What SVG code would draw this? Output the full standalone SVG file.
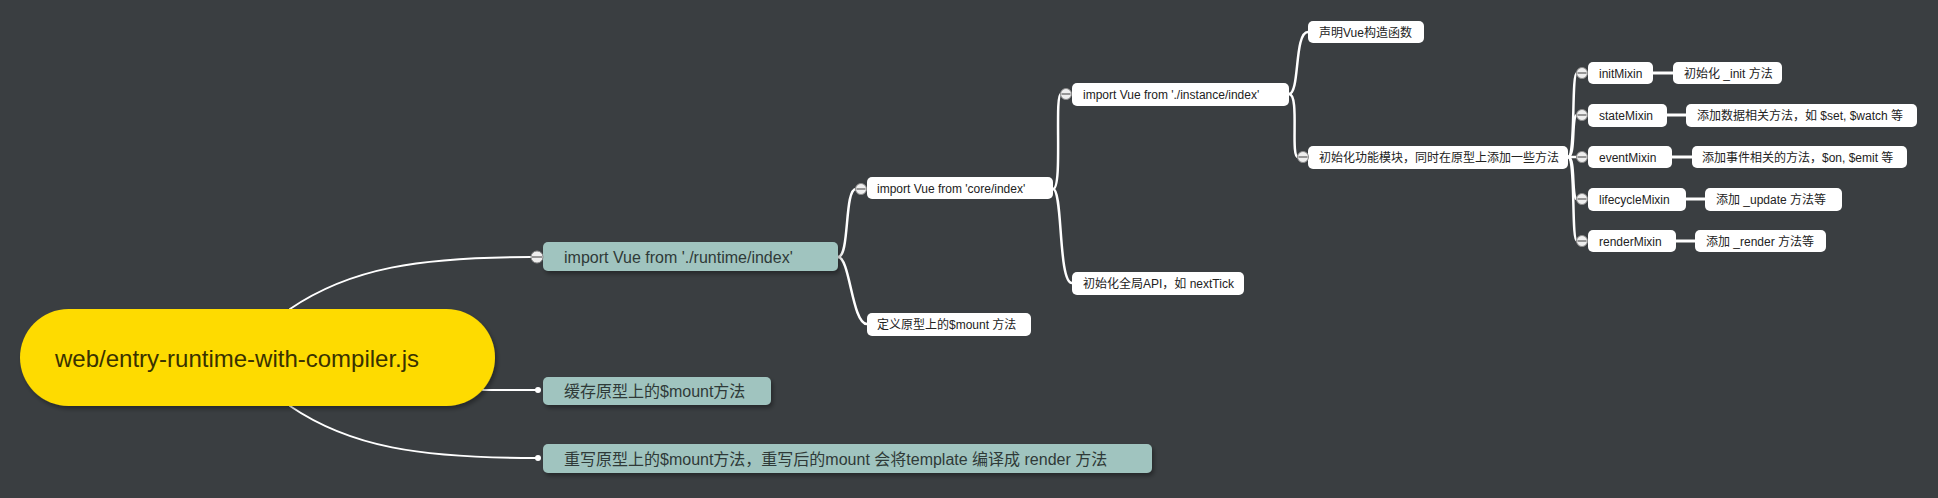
<svg xmlns="http://www.w3.org/2000/svg" width="1938" height="498" viewBox="0 0 1938 498">
<defs>
<filter id="sh" x="-10%" y="-30%" width="120%" height="170%">
<feDropShadow dx="2" dy="3" stdDeviation="2" flood-color="#000" flood-opacity="0.35"/>
</filter>
</defs>
<style>
text{font-family:"Liberation Sans",Arial,"Noto Sans CJK SC",sans-serif;fill:#333;}
.root{fill:#fedb00;filter:url(#sh);}
.roott{font-size:24px;fill:#3a3200;}
.l1{fill:#a0c4bf;filter:url(#sh);}
.l1t{font-size:16px;fill:#2f3a38;}
.wn{fill:#ffffff;}
.wt{font-size:12px;fill:#222;}
.c{fill:none;stroke:#ffffff;stroke-width:2.5;stroke-linecap:round;}
.thin{stroke-width:2;}
.col{fill:#eeeeee;stroke:#8a8a8a;stroke-width:1;}
.minus{stroke:#666;stroke-width:1.3;}
.dot{fill:#ffffff;}
</style>
<rect width="1938" height="498" fill="#3a3e41"/>
<g id="connectors">
<path class="c thin" d="M290,309 C350,268 420,257 531,257"/>
<path class="c thin" d="M483,390 L536,390"/>
<path class="c thin" d="M290,406 C350,447 420,458 536,458"/>
<path class="c" d="M838,257 C850,257 844,189 856,189"/>
<path class="c" d="M838,257 C850,257 852,324 867,324"/>
<path class="c" d="M1053,189 C1063,189 1054,94 1061,94"/>
<path class="c" d="M1053,189 C1063,189 1058,283 1072,283"/>
<path class="c" d="M1289,94 C1300,94 1294,32 1308,32"/>
<path class="c" d="M1289,94 C1300,94 1290,157 1298,157"/>
<path class="c" d="M1568,157 C1576,157 1571,73 1577,73"/>
<path class="c" d="M1568,157 C1576,157 1571,115 1577,115"/>
<path class="c" d="M1568,157 L1577,157"/>
<path class="c" d="M1568,157 C1576,157 1571,199 1577,199"/>
<path class="c" d="M1568,157 C1576,157 1571,241 1577,241"/>
<path class="c" d="M1653,73 L1673,73" style="stroke-width:3"/>
<path class="c" d="M1667,115 L1686,115" style="stroke-width:3"/>
<path class="c" d="M1672,157 L1692,157" style="stroke-width:3"/>
<path class="c" d="M1686,199 L1705,199" style="stroke-width:3"/>
<path class="c" d="M1676,241 L1695,241" style="stroke-width:3"/>
</g>
<g id="root">
<rect class="root" x="20" y="309" width="475" height="97" rx="48.5"/>
<text class="roott" x="55" y="367">web/entry-runtime-with-compiler.js</text>
</g>
<g id="n-runtime">
<rect class="l1" x="543" y="242" width="295" height="29" rx="5"/>
<text class="l1t" x="564" y="263">import Vue from './runtime/index'</text>
<circle class="col" cx="537" cy="257" r="6"/>
<line class="minus" x1="532" y1="257" x2="542" y2="257"/>
</g>
<g id="n-cache">
<rect class="l1" x="543" y="377" width="228" height="28" rx="5"/>
<text class="l1t" x="564" y="397">缓存原型上的$mount方法</text>
<circle class="dot" cx="538" cy="390" r="3"/>
</g>
<g id="n-rewrite">
<rect class="l1" x="543" y="444" width="609" height="29" rx="5"/>
<text class="l1t" x="564" y="465">重写原型上的$mount方法，重写后的mount 会将template 编译成 render 方法</text>
<circle class="dot" cx="538" cy="458" r="3"/>
</g>
<g id="n-core">
<rect class="wn" x="867" y="177" width="186" height="22" rx="5"/>
<text class="wt" x="877" y="193">import Vue from 'core/index'</text>
<circle class="col" cx="861" cy="189" r="5.5"/>
<line class="minus" x1="856.5" y1="189" x2="865.5" y2="189"/>
</g>
<g id="n-mount">
<rect class="wn" x="867" y="313" width="164" height="23" rx="5"/>
<text class="wt" x="877" y="329">定义原型上的$mount 方法</text>
</g>
<g id="n-instance">
<rect class="wn" x="1072" y="83" width="217" height="23" rx="5"/>
<text class="wt" x="1083" y="99">import Vue from './instance/index'</text>
<circle class="col" cx="1066" cy="94" r="5.5"/>
<line class="minus" x1="1061.5" y1="94" x2="1070.5" y2="94"/>
</g>
<g id="n-globalapi">
<rect class="wn" x="1072" y="272" width="172" height="23" rx="5"/>
<text class="wt" x="1083" y="288">初始化全局API，如 nextTick</text>
</g>
<g id="n-ctor">
<rect class="wn" x="1308" y="21" width="116" height="22" rx="5"/>
<text class="wt" x="1319" y="37">声明Vue构造函数</text>
</g>
<g id="n-modules">
<rect class="wn" x="1308" y="146" width="260" height="23" rx="5"/>
<text class="wt" x="1319" y="162">初始化功能模块，同时在原型上添加一些方法</text>
<circle class="col" cx="1303" cy="157" r="5.5"/>
<line class="minus" x1="1298.5" y1="157" x2="1307.5" y2="157"/>
</g>
<g id="n-initMixin">
<rect class="wn" x="1588" y="62" width="65" height="22" rx="5"/>
<text class="wt" x="1599" y="78">initMixin</text>
<circle class="col" cx="1582" cy="73" r="5.5"/>
<line class="minus" x1="1577.5" y1="73" x2="1586.5" y2="73"/>
</g>
<g id="d-initMixin">
<rect class="wn" x="1673" y="62" width="109" height="22" rx="5"/>
<text class="wt" x="1684" y="78">初始化 _init 方法</text>
</g>
<g id="n-stateMixin">
<rect class="wn" x="1588" y="104" width="79" height="23" rx="5"/>
<text class="wt" x="1599" y="120">stateMixin</text>
<circle class="col" cx="1582" cy="115" r="5.5"/>
<line class="minus" x1="1577.5" y1="115" x2="1586.5" y2="115"/>
</g>
<g id="d-stateMixin">
<rect class="wn" x="1686" y="104" width="231" height="23" rx="5"/>
<text class="wt" x="1697" y="120">添加数据相关方法，如 $set, $watch 等</text>
</g>
<g id="n-eventMixin">
<rect class="wn" x="1588" y="146" width="84" height="22" rx="5"/>
<text class="wt" x="1599" y="162">eventMixin</text>
<circle class="col" cx="1582" cy="157" r="5.5"/>
<line class="minus" x1="1577.5" y1="157" x2="1586.5" y2="157"/>
</g>
<g id="d-eventMixin">
<rect class="wn" x="1692" y="146" width="215" height="22" rx="5"/>
<text class="wt" x="1702" y="162">添加事件相关的方法，$on, $emit 等</text>
</g>
<g id="n-lifecycleMixin">
<rect class="wn" x="1588" y="188" width="98" height="23" rx="5"/>
<text class="wt" x="1599" y="204">lifecycleMixin</text>
<circle class="col" cx="1582" cy="199" r="5.5"/>
<line class="minus" x1="1577.5" y1="199" x2="1586.5" y2="199"/>
</g>
<g id="d-lifecycleMixin">
<rect class="wn" x="1705" y="188" width="137" height="23" rx="5"/>
<text class="wt" x="1716" y="204">添加 _update 方法等</text>
</g>
<g id="n-renderMixin">
<rect class="wn" x="1588" y="230" width="88" height="22" rx="5"/>
<text class="wt" x="1599" y="246">renderMixin</text>
<circle class="col" cx="1582" cy="241" r="5.5"/>
<line class="minus" x1="1577.5" y1="241" x2="1586.5" y2="241"/>
</g>
<g id="d-renderMixin">
<rect class="wn" x="1695" y="230" width="131" height="22" rx="5"/>
<text class="wt" x="1706" y="246">添加 _render 方法等</text>
</g>
</svg>
